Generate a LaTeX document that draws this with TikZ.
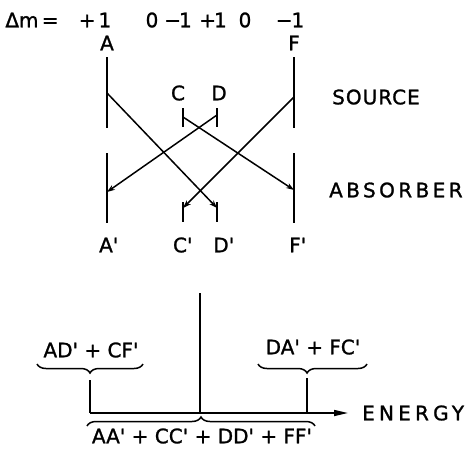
\documentclass[tikz,border=0pt]{standalone}
\usepackage{fontspec}
\setmainfont{DejaVu Sans}[FakeBold=1.2]
\usetikzlibrary{arrows.meta,decorations.pathreplacing}
\newcommand{\qqprime}{\textquotesingle}
\newcommand{\lapprime}{\rlap{\textquotesingle}}
\begin{document}
\begin{tikzpicture}[x=1pt,y=-1pt,
  txt/.style={font=\fontsize{20}{24}\selectfont,inner sep=0pt,text height=14.6pt,text depth=0pt},
  bar/.style={line width=1.6pt},
  ray/.style={line width=1.5pt,-{Stealth[length=8pt,width=5.5pt]}},
  brc/.style={line width=1.5pt,decorate},
  ax/.style={line width=1.6pt,-{Triangle[length=14pt,width=6pt]}}]
\useasboundingbox (0,0) rectangle (466,448);
% top row
\node[txt] (dm) at (32,20) {Δm\,=};
\node[txt] (v1) at (95,20) {+\hspace{3pt}1};
\node[txt] (v2) at (152,20) {0};
\node[txt] (v3) at (178,20) {−\kern-2pt1};
\node[txt] (v4) at (213,20) {+\kern-2pt1};
\node[txt] (v5) at (245,20) {0};
\node[txt] (v6) at (290,20) {−\kern-1pt1};
% labels
\node[txt] (lA) at (107,43) {A};
\node[txt] (lF) at (294,43) {F};
\node[txt] (lC) at (178,93) {C};
\node[txt] (lD) at (219,93) {D};
\node[txt] (lA2) at (106,245) {A\lapprime};
\node[txt] (lC2) at (180,245) {C\lapprime};
\node[txt] (lD2) at (221,245) {D\lapprime};
\node[txt] (lF2) at (295,245) {F\lapprime};
\node[txt,font=\fontsize{20}{24}\selectfont\addfontfeature{LetterSpace=5},anchor=west] (src) at (332,97) {SOURCE};
\node[txt,font=\fontsize{20}{24}\selectfont\addfontfeature{LetterSpace=17},anchor=west] (abs) at (329,190) {ABSORBER};
% bars
\coordinate (As) at (107,57); \coordinate (Ae) at (107,128);
\coordinate (Fs) at (294,57); \coordinate (Fe) at (294,128);
\coordinate (Cs) at (183,108); \coordinate (Ce) at (183,127);
\coordinate (Ds) at (217,108); \coordinate (De) at (217,127);
\coordinate (A2s) at (107,153); \coordinate (A2e) at (107,223);
\coordinate (F2s) at (294,153); \coordinate (F2e) at (294,223);
\coordinate (C2s) at (183,202); \coordinate (C2e) at (183,222);
\coordinate (D2s) at (217,202); \coordinate (D2e) at (217,222);
\foreach \a/\b in {As/Ae,Fs/Fe,Cs/Ce,Ds/De,A2s/A2e,F2s/F2e,C2s/C2e,D2s/D2e}
  \draw[bar] (\a) -- (\b);
% emission points and arrival points
\coordinate (eA) at (107,93); \coordinate (eF) at (294,97);
\coordinate (eC) at (183,117); \coordinate (eD) at (217,115);
\coordinate (tD2) at (217,208); \coordinate (tC2) at (183,208);
\coordinate (tF2) at (294,190); \coordinate (tA2) at (107,192);
\draw[ray] (eA) -- (tD2);
\draw[ray] (eF) -- (tC2);
\draw[ray] (eC) -- (tF2);
\draw[ray] (eD) -- (tA2);
% spectrum
\coordinate (ctop) at (200,293); \coordinate (c0) at (200,413);
\coordinate (ax0) at (90,413); \coordinate (ax1) at (348,413);
\coordinate (ltop) at (90,380); \coordinate (rtop) at (307,378);
\coordinate (r0) at (307,413);
\draw[bar] (ctop) -- (c0);
\draw[bar] (ltop) -- (ax0);
\draw[bar] (rtop) -- (r0);
\draw[ax] (ax0) -- (ax1);
\node[txt,font=\fontsize{20}{24}\selectfont\addfontfeature{LetterSpace=21},anchor=west] (en) at (362,413) {ENERGY};
\node[txt] (t1) at (91,350) {AD\qqprime{} + CF\qqprime};
\node[txt] (t2) at (313,347) {DA\qqprime{} + FC\qqprime};
\node[txt] (t3) at (202,436) {AA\qqprime{} + CC\qqprime{} + DD\qqprime{} + FF\qqprime};
\coordinate (b1l) at (37,364); \coordinate (b1r) at (143,364);
\coordinate (b2l) at (258,364); \coordinate (b2r) at (367,364);
\coordinate (b3l) at (87,426); \coordinate (b3r) at (315,426);
\draw[brc,decoration={brace,amplitude=9pt,mirror}] (b1l) -- (b1r);
\draw[brc,decoration={brace,amplitude=9pt,mirror,aspect=0.45}] (b2l) -- (b2r);
\draw[brc,decoration={brace,amplitude=9pt}] (b3l) -- (b3r);
\end{tikzpicture}
\end{document}
